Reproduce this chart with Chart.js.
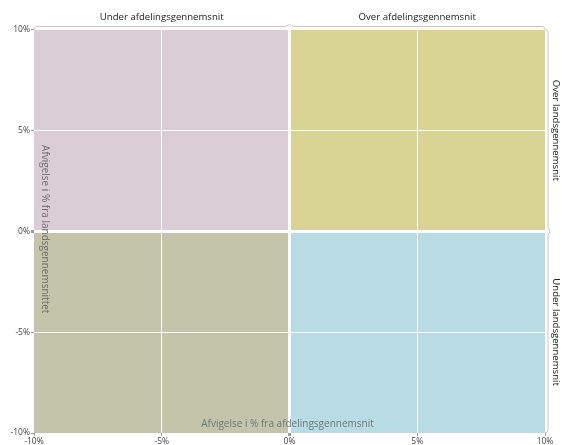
<!DOCTYPE html>
<html>
<head>
<meta charset="utf-8">
<script src="https://cdn.jsdelivr.net/npm/chart.js@4"></script>
<style>
  html, body { margin: 0; padding: 0; background: #fff; }
  #wrap { width: 562px; height: 445px; }
</style>
</head>
<body>
<div id="wrap"><canvas id="quad"></canvas></div>
<script>
// quadrant rectangles (x from / x to, y edge, filled towards 0)
var quadNames = ["Under afd. / Over land", "Over afd. / Over land", "Under afd. / Under land", "Over afd. / Under land"];
var quadXFrom = [-10, 0, -10, 0];
var quadXTo = [0, 10, 0, 10];
var quadY = [10, 10, -10, -10];
var quadColors = ["#dacdd6", "#d9d394", "#c4c4aa", "#b9dce4"];

var tickValues = [-10, -5, 0, 5, 10];
var topLabels = ["Under afdelingsgennemsnit", "Over afdelingsgennemsnit"];
var sideLabels = ["Over landsgennemsnit", "Under landsgennemsnit"];
var xTitle = "Afvigelse i % fra afdelingsgennemsnit";
var yTitle = "Afvigelse i % fra landsgennemsnittet";

var FONT = "'Open Sans', sans-serif";

var datasets = quadNames.map(function (name, i) {
    return {
        label: name,
        data: [{ x: quadXFrom[i], y: quadY[i] }, { x: quadXTo[i], y: quadY[i] }],
        backgroundColor: quadColors[i],
        borderWidth: 0,
        pointRadius: 0,
        fill: "origin"
    };
});

function gridColor(ctx) {
    var v = ctx.tick ? ctx.tick.value : null;
    if (v === -10 || v === 10) return "rgba(0,0,0,0)";
    return "#ffffff";
}
function gridWidth(ctx) {
    return ctx.tick && ctx.tick.value === 0 ? 3 : 1;
}

// brackets and labels around / inside the plot
var decorations = {
    id: "decorations",
    afterDraw: function (chart) {
        var c = chart.ctx;
        var xs = chart.scales.x, ys = chart.scales.y;
        var l = xs.getPixelForValue(-10), r = xs.getPixelForValue(10), mx = xs.getPixelForValue(0);
        var t = ys.getPixelForValue(10), b = ys.getPixelForValue(-10), my = ys.getPixelForValue(0);

        c.save();
        c.strokeStyle = "#c8c8c8";
        c.lineWidth = 1;

        // top bracket
        var by = t - 3;
        c.beginPath();
        c.moveTo(l, t);
        c.quadraticCurveTo(l, by, l + 3, by);
        c.lineTo(mx - 4, by);
        c.lineTo(mx, by - 2);
        c.lineTo(mx + 4, by);
        c.lineTo(r - 3, by);
        c.quadraticCurveTo(r, by, r, t);
        c.stroke();

        // right bracket
        var bx = r + 3;
        c.beginPath();
        c.moveTo(r, t);
        c.quadraticCurveTo(bx, t, bx, t + 3);
        c.lineTo(bx, my - 4);
        c.lineTo(bx + 2, my);
        c.lineTo(bx, my + 4);
        c.lineTo(bx, b - 3);
        c.quadraticCurveTo(bx, b, r, b);
        c.stroke();

        c.fillStyle = "#222";
        c.font = "9.6px " + FONT;
        c.textAlign = "center";
        c.textBaseline = "middle";
        c.fillText(topLabels[0], (l + mx) / 2, t - 12);
        c.fillText(topLabels[1], (mx + r) / 2, t - 12);

        // rotated side labels
        var sideY = [(t + my) / 2, (my + b) / 2];
        sideLabels.forEach(function (txt, i) {
            c.save();
            c.translate(bx + 8, sideY[i]);
            c.rotate(Math.PI / 2);
            c.fillText(txt, 0, 0);
            c.restore();
        });

        // axis titles drawn inside the plot
        c.fillStyle = "#6b7778";
        c.font = "10px " + FONT;
        c.fillText(xTitle, mx - 2, b - 9);

        c.fillStyle = "#6e6a6e";
        c.save();
        c.translate(l + 11, my - 2);
        c.rotate(Math.PI / 2);
        c.fillText(yTitle, 0, 0);
        c.restore();

        c.restore();
    }
};

new Chart(document.getElementById("quad").getContext("2d"), {
    type: "line",
    data: { datasets: datasets },
    options: {
        responsive: true,
        maintainAspectRatio: false,
        animation: false,
        events: [],
        layout: { padding: { top: 29.5, right: 17, left: 0, bottom: 0 } },
        plugins: {
            legend: { display: false },
            tooltip: { enabled: false },
            filler: { propagate: false }
        },
        scales: {
            x: {
                type: "linear",
                min: -10,
                max: 10,
                afterBuildTicks: function (scale) {
                    scale.ticks = tickValues.map(function (v) { return { value: v }; });
                },
                afterFit: function (scale) { scale.height = 12; },
                grid: { z: 1, color: gridColor, lineWidth: gridWidth, tickLength: 3, tickColor: "#9a9a9a" },
                border: { display: false },
                ticks: {
                    padding: 0,
                    maxRotation: 0,
                    color: "#444",
                    font: { family: FONT, size: 8.5 },
                    callback: function (v) { return v + "%"; }
                }
            },
            y: {
                type: "linear",
                min: -10,
                max: 10,
                afterBuildTicks: function (scale) {
                    scale.ticks = tickValues.map(function (v) { return { value: v }; });
                },
                afterFit: function (scale) { scale.width = 34; },
                grid: { z: 1, color: gridColor, lineWidth: gridWidth, tickLength: 3, tickColor: "#9a9a9a" },
                border: { display: false },
                ticks: {
                    padding: 1,
                    color: "#444",
                    font: { family: FONT, size: 8.5 },
                    callback: function (v) { return v + "%"; }
                }
            }
        }
    },
    plugins: [decorations]
});
</script>
</body>
</html>
